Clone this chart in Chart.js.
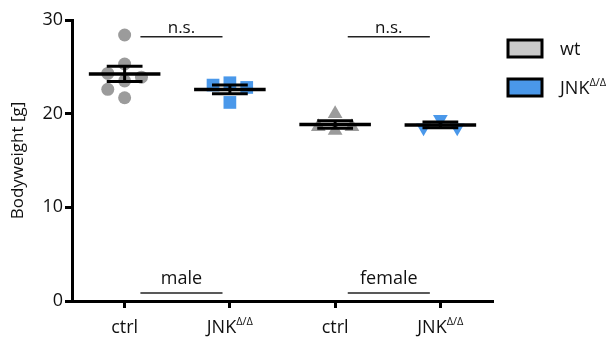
<!DOCTYPE html>
<html>
<head>
<meta charset="utf-8">
<script src="https://cdn.jsdelivr.net/npm/chart.js@4.4.1/dist/chart.umd.min.js"></script>
<style>
  html, body { margin: 0; padding: 0; background: #fff; }
  #wrap { width: 613px; height: 338px; }
</style>
</head>
<body>
<div id="wrap"><canvas id="chartPeso"></canvas></div>
<script>
// ---- data ----
const categories = ['ctrl', 'JNK', 'ctrl', 'JNK'];
const sexLabels = ['male', 'female'];
const maleWt = [28.4, 25.3, 24.3, 23.9, 23.5, 22.6, 21.7];
const maleJnk = [23.3, 23.05, 22.8, 21.2];
const femaleWt = [20.0, 18.6, 18.6, 18.2];
const femaleJnk = [19.4, 18.5, 18.5];
const yTicks = [0, 10, 20, 30];

const GREY = '#9b9b9b';
const BLUE = '#4a98ea';
const FONT = "'Open Sans', sans-serif";

Chart.defaults.font.family = FONT;
Chart.defaults.color = '#111';

// simple column-scatter layout so points don't sit on top of each other
function swarm(vals, center) {
    const step = 0.16, minDy = 1.5;
    const placed = [];
    const order = vals.map((v, i) => i).sort((a, b) => vals[b] - vals[a]);
    order.forEach(i => {
        for (let k = 0; k < 20; k++) {
            const off = k === 0 ? 0 : (k % 2 ? -1 : 1) * Math.ceil(k / 2) * step;
            const hit = placed.some(p => Math.abs(p.x - off) < step / 2 && Math.abs(p.y - vals[i]) < minDy);
            if (!hit) { placed.push({ x: off, y: vals[i] }); break; }
        }
    });
    return placed.map(p => ({ x: center + p.x, y: p.y }));
}

function grupo(vals, idx, color, style, rot, radius) {
    return {
        label: categories[idx],
        data: swarm(vals, idx + 1),
        center: idx + 1,
        pointStyle: style,
        rotation: rot,
        pointRadius: radius,
        pointHoverRadius: radius,
        backgroundColor: color,
        borderColor: color,
        borderWidth: 0,
        showLine: false
    };
}

// mean + SEM, n.s. brackets, sex labels, x labels, legend
const extras = {
    id: 'extras',
    afterDatasetsDraw(chart) {
        const { ctx } = chart;
        const x = chart.scales.x, y = chart.scales.y;
        ctx.save();
        ctx.strokeStyle = '#000';
        chart.data.datasets.forEach(ds => {
            const v = ds.data.map(p => p.y);
            const n = v.length;
            const mean = v.reduce((a, b) => a + b, 0) / n;
            const sd = Math.sqrt(v.reduce((a, b) => a + (b - mean) ** 2, 0) / (n - 1));
            const sem = sd / Math.sqrt(n);
            const c = ds.center;
            const line = (x0, x1, yy, w) => {
                ctx.lineWidth = w;
                ctx.beginPath();
                ctx.moveTo(x.getPixelForValue(x0), y.getPixelForValue(yy));
                ctx.lineTo(x.getPixelForValue(x1), y.getPixelForValue(yy));
                ctx.stroke();
            };
            line(c - 0.34, c + 0.34, mean, 3.5);
            line(c - 0.17, c + 0.17, mean + sem, 3);
            line(c - 0.17, c + 0.17, mean - sem, 3);
            ctx.lineWidth = 3;
            ctx.beginPath();
            ctx.moveTo(x.getPixelForValue(c), y.getPixelForValue(mean + sem));
            ctx.lineTo(x.getPixelForValue(c), y.getPixelForValue(mean - sem));
            ctx.stroke();
        });

        // n.s. brackets and sex labels
        ctx.lineWidth = 1.5;
        ctx.strokeStyle = '#222';
        ctx.fillStyle = '#111';
        ctx.textAlign = 'center';
        [[1.15, 1.93], [3.12, 3.9]].forEach((r, i) => {
            const x0 = x.getPixelForValue(r[0]), x1 = x.getPixelForValue(r[1]);
            const yt = y.getPixelForValue(28.2);
            ctx.beginPath(); ctx.moveTo(x0, yt); ctx.lineTo(x1, yt); ctx.stroke();
            ctx.font = '17px ' + FONT;
            ctx.textBaseline = 'alphabetic';
            ctx.fillText('n.s.', (x0 + x1) / 2, yt - 4);
            const yb = y.getPixelForValue(0.85);
            ctx.beginPath(); ctx.moveTo(x0, yb); ctx.lineTo(x1, yb); ctx.stroke();
            ctx.font = '18px ' + FONT;
            ctx.fillText(sexLabels[i], (x0 + x1) / 2, yb - 9);
        });

        // x labels with superscript
        const drawLabel = (txt, cx, cy, sup) => {
            ctx.font = '18px ' + FONT;
            const w1 = ctx.measureText(txt).width;
            ctx.font = '11px ' + FONT;
            const w2 = sup ? ctx.measureText(sup).width : 0;
            const start = cx - (w1 + w2) / 2;
            ctx.textAlign = 'left';
            ctx.font = '18px ' + FONT;
            ctx.fillText(txt, start, cy);
            if (sup) {
                ctx.font = '11px ' + FONT;
                ctx.fillText(sup, start + w1, cy - 8);
            }
        };
        categories.forEach((c, i) => {
            drawLabel(c, x.getPixelForValue(i + 1), 333, c === 'JNK' ? '\u0394/\u0394' : null);
        });

        // legend
        const items = [['wt', '#c9c9c9', null], ['JNK', BLUE, '\u0394/\u0394']];
        items.forEach((it, i) => {
            const top = 40 + i * 39;
            ctx.fillStyle = it[1];
            ctx.fillRect(508, top, 34, 17);
            ctx.lineWidth = 3;
            ctx.strokeStyle = '#000';
            ctx.strokeRect(508, top, 34, 17);
            ctx.fillStyle = '#111';
            ctx.textAlign = 'left';
            ctx.font = '18px ' + FONT;
            ctx.fillText(it[0], 560, top + 15);
            if (it[2]) {
                const w = ctx.measureText(it[0]).width;
                ctx.font = '11px ' + FONT;
                ctx.fillText(it[2], 560 + w, top + 7);
            }
        });
        ctx.restore();
    }
};

const ctxPeso = document.getElementById('chartPeso');
new Chart(ctxPeso, {
    type: 'scatter',
    data: {
        datasets: [
            grupo(maleWt, 0, GREY, 'circle', 0, 6.5),
            grupo(maleJnk, 1, BLUE, 'rect', 0, 9),
            grupo(femaleWt, 2, GREY, 'triangle', 0, 8.5),
            grupo(femaleJnk, 3, BLUE, 'triangle', 180, 8.5)
        ]
    },
    options: {
        responsive: true,
        maintainAspectRatio: false,
        animation: false,
        layout: { padding: { top: 20, right: 120, left: 8, bottom: 0 } },
        plugins: {
            legend: { display: false },
            tooltip: { enabled: false }
        },
        scales: {
            x: {
                type: 'linear',
                min: 0.5,
                max: 4.5,
                afterBuildTicks: s => { s.ticks = categories.map((c, i) => ({ value: i + 1 })); },
                afterFit: s => { s.height = 37; },
                ticks: { display: false },
                border: { color: '#000', width: 3 },
                grid: { drawOnChartArea: false, drawTicks: true, tickLength: 7, tickWidth: 3, tickColor: '#000' }
            },
            y: {
                min: 0,
                max: 30,
                afterBuildTicks: s => { s.ticks = yTicks.map(v => ({ value: v })); },
                afterFit: s => { s.width = 64; },
                ticks: { font: { size: 18 }, color: '#111', padding: 2 },
                border: { color: '#000', width: 3 },
                grid: { drawOnChartArea: false, drawTicks: true, tickLength: 7, tickWidth: 3, tickColor: '#000' },
                title: { display: true, text: 'Bodyweight [g]', font: { size: 17 }, color: '#111', padding: 0 }
            }
        }
    },
    plugins: [extras]
});
</script>
</body>
</html>
